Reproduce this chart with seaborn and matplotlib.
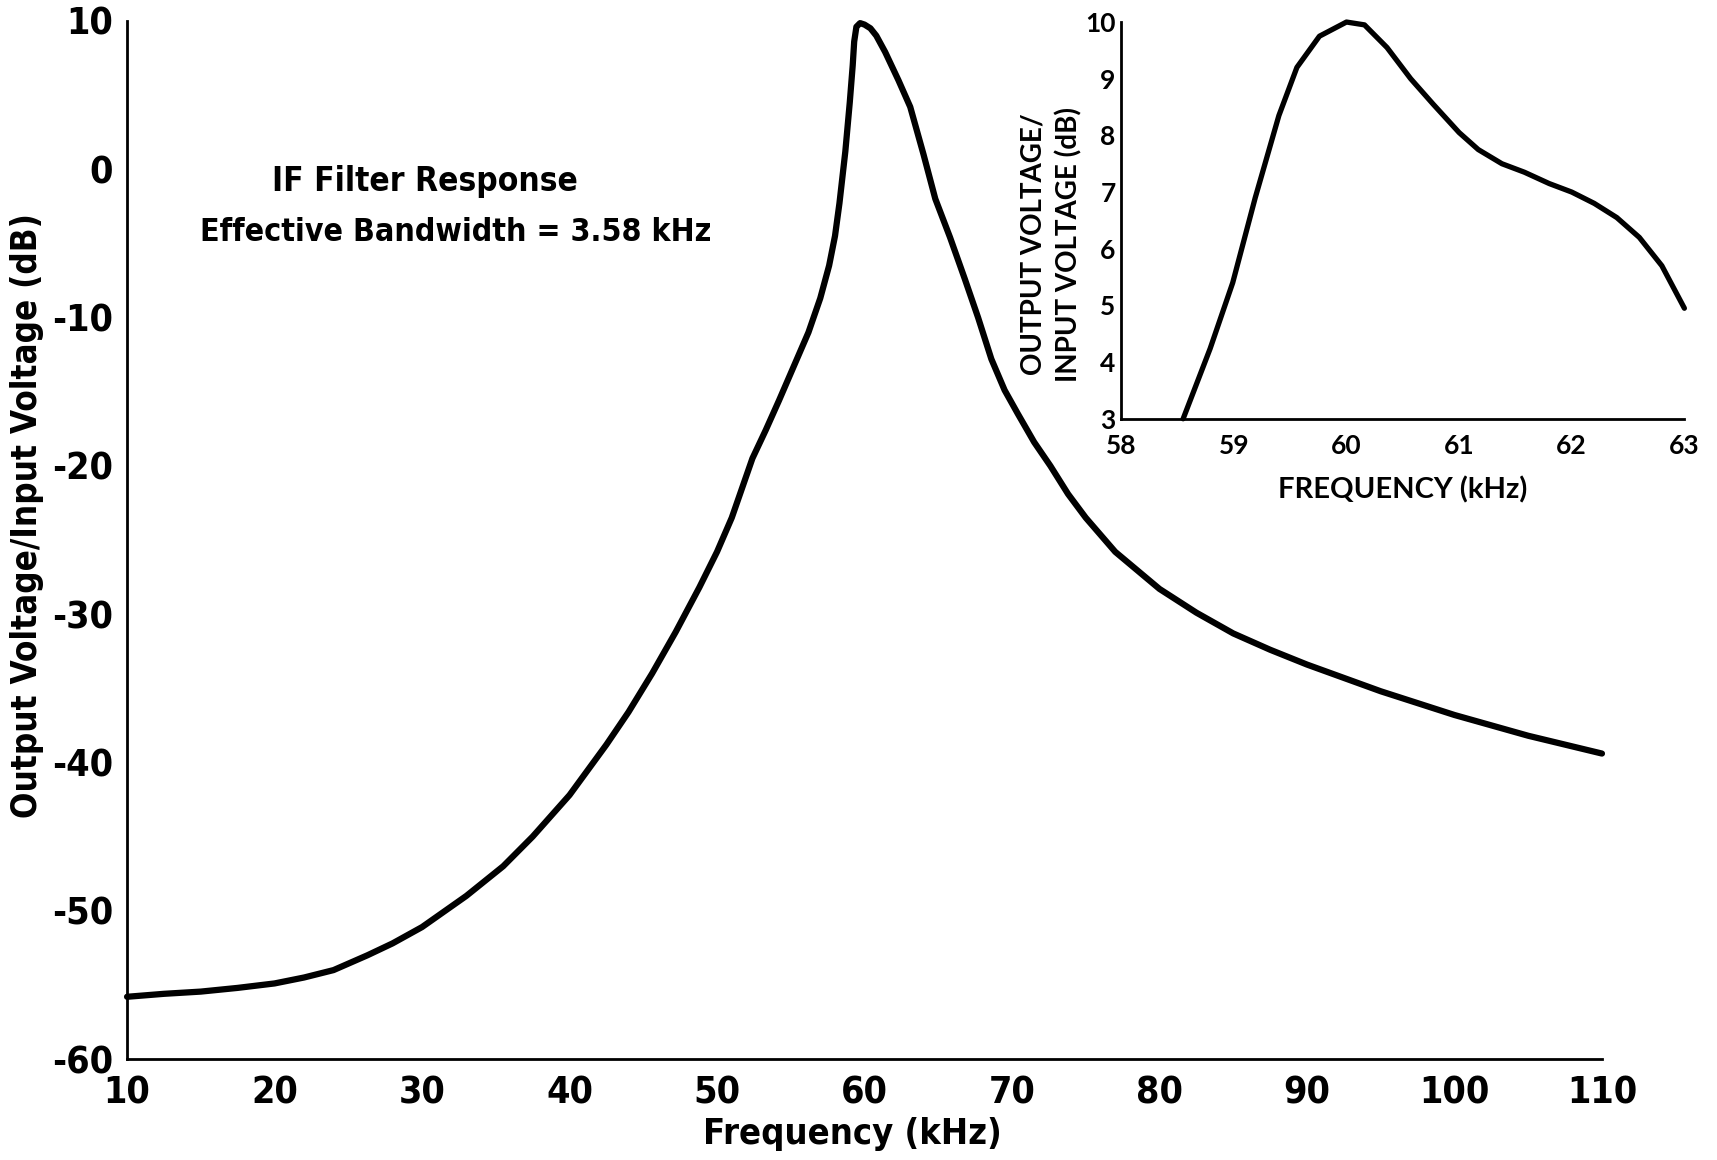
import numpy as np
import pandas as pd
import matplotlib
matplotlib.use("Agg")
import matplotlib.pyplot as plt
import seaborn as sns

# ------------------------------------------------------------------
# Data
# ------------------------------------------------------------------
# main panel: IF filter response, 10-110 kHz
freq_main = [10, 12.5, 15, 17.5, 20, 22, 24, 26.3, 28, 30, 33, 35.5, 37.5,
             40, 42.5, 44, 45.6, 47.2, 48.8, 50, 51, 52.4, 53.3, 54.2, 55.2,
             56.2, 57.0, 57.6, 58.0, 58.3, 58.7, 59.0, 59.2, 59.3, 59.45,
             59.7, 60.0, 60.4, 60.8, 61.4, 62.3, 63.1, 64.0, 64.8, 65.8,
             66.8, 67.7, 68.6, 69.5, 70.4, 71.5, 72.6, 73.8, 75, 77, 80,
             82.5, 85, 87.5, 90, 92.5, 95, 97.5, 100, 105, 110]
gain_main = [-55.8, -55.6, -55.45, -55.2, -54.9, -54.5, -54.0, -53.0, -52.2,
             -51.1, -49.0, -47.0, -45.0, -42.2, -38.8, -36.6, -34.0, -31.2,
             -28.2, -25.8, -23.5, -19.5, -17.6, -15.6, -13.3, -11.0, -8.7,
             -6.5, -4.5, -2.3, 1.2, 4.5, 7.0, 8.6, 9.6, 9.85, 9.75, 9.5, 9.0,
             7.9, 6.0, 4.2, 1.0, -2.0, -4.6, -7.4, -10.0, -12.8, -14.9,
             -16.5, -18.4, -20.0, -21.9, -23.5, -25.8, -28.3, -29.9, -31.3,
             -32.4, -33.4, -34.3, -35.2, -36.0, -36.8, -38.2, -39.4]

# inset: detail of the pass band, 58-63 kHz
freq_inset = [58.55, 58.79, 58.99, 59.19, 59.40, 59.56, 59.76, 60.0, 60.16,
              60.36, 60.57, 60.77, 61.0, 61.17, 61.38, 61.58, 61.8, 62.0,
              62.2, 62.4, 62.6, 62.8, 63.0]
gain_inset = [3.0, 4.24, 5.4, 6.9, 8.35, 9.2, 9.75, 10.0, 9.95, 9.55, 9.0,
              8.55, 8.05, 7.75, 7.5, 7.35, 7.15, 7.0, 6.8, 6.55, 6.2, 5.7, 4.95]

main_xticks = [10, 20, 30, 40, 50, 60, 70, 80, 90, 100, 110]
main_yticks = [10, 0, -10, -20, -30, -40, -50, -60]
inset_xticks = [58, 59, 60, 61, 62, 63]
inset_yticks = [3, 4, 5, 6, 7, 8, 9, 10]

df_main = pd.DataFrame({"freq": freq_main, "gain": gain_main})
df_inset = pd.DataFrame({"freq": freq_inset, "gain": gain_inset})

# ------------------------------------------------------------------
# Style
# ------------------------------------------------------------------
sns.set_theme(style="white")
plt.rcParams['font.family'] = ['DejaVu Sans']
plt.rcParams['font.stretch'] = 'condensed'
plt.rcParams['text.color'] = 'black'
plt.rcParams['axes.labelcolor'] = 'black'
plt.rcParams['xtick.color'] = 'black'
plt.rcParams['ytick.color'] = 'black'
plt.rcParams['lines.solid_capstyle'] = 'round'
plt.rcParams['lines.solid_joinstyle'] = 'round'

MAIN_FONT = dict(family=['DejaVu Sans'], stretch='condensed', weight='bold')
INSET_FONT = dict(family=['Lato', 'DejaVu Sans'], weight='bold')

fig = plt.figure(figsize=(17.17, 11.6), dpi=100)

# ------------------------------------------------------------------
# Main axes
# ------------------------------------------------------------------
ax = fig.add_axes([0.074, 0.087, 0.859, 0.895])
sns.lineplot(data=df_main, x="freq", y="gain", ax=ax, color='black',
             linewidth=4.5, estimator=None, sort=False, clip_on=False)
ax.set_xlim(10, 110)
ax.set_ylim(-60, 10)
ax.set_xticks(main_xticks)
ax.set_yticks(main_yticks)
ax.set_xticklabels([str(t) for t in main_xticks], fontsize=27, **MAIN_FONT)
ax.set_yticklabels([f"{t}" for t in main_yticks], fontsize=27, **MAIN_FONT)
ax.tick_params(axis='both', direction='in', length=11, width=1.8)
ax.tick_params(axis='x', pad=12)
ax.tick_params(axis='y', pad=10)
for s in ['top', 'right']:
    ax.spines[s].set_visible(False)
for s in ['left', 'bottom']:
    ax.spines[s].set_linewidth(2.0)
    ax.spines[s].set_color('black')

ax.set_xlabel('Frequency (kHz)', fontsize=26, **MAIN_FONT)
ax.set_ylabel('Output Voltage/Input Voltage (dB)', fontsize=25, **MAIN_FONT)
ax.xaxis.set_label_coords(0.492, -0.056)
ax.yaxis.set_label_coords(-0.056, 0.524)

ax.text(30.2, -0.8, 'IF Filter Response', fontsize=24,
        ha='center', va='center', **MAIN_FONT)
ax.text(32.3, -4.3, 'Effective Bandwidth = 3.58 kHz', fontsize=23,
        ha='center', va='center', **MAIN_FONT)

# ------------------------------------------------------------------
# Inset axes
# ------------------------------------------------------------------
ax_in = fig.add_axes([0.653, 0.639, 0.328, 0.342])
ax_in.set_facecolor('white')
sns.lineplot(data=df_inset, x="freq", y="gain", ax=ax_in, color='black',
             linewidth=3.8, estimator=None, sort=False, clip_on=False)
ax_in.set_xlim(58, 63)
ax_in.set_ylim(3, 10)
ax_in.set_xticks(inset_xticks)
ax_in.set_yticks(inset_yticks)
ax_in.set_xticklabels([str(t) for t in inset_xticks], fontsize=19, **INSET_FONT)
ax_in.set_yticklabels([str(t) for t in inset_yticks], fontsize=19, **INSET_FONT)
ax_in.tick_params(axis='both', direction='in', length=9, width=1.5)
ax_in.tick_params(axis='x', pad=11)
ax_in.tick_params(axis='y', pad=4)
for s in ['top', 'right']:
    ax_in.spines[s].set_visible(False)
for s in ['left', 'bottom']:
    ax_in.spines[s].set_linewidth(2.0)
    ax_in.spines[s].set_color('black')

ax_in.set_xlabel('FREQUENCY (kHz)', fontsize=21, **INSET_FONT)
ax_in.set_ylabel('OUTPUT VOLTAGE/\nINPUT VOLTAGE (dB)', fontsize=20,
                 linespacing=1.4, **INSET_FONT)
ax_in.xaxis.set_label_coords(0.5, -0.145)
ax_in.yaxis.set_label_coords(-0.068, 0.44)

fig.savefig('out.png', dpi=100, facecolor='white')
